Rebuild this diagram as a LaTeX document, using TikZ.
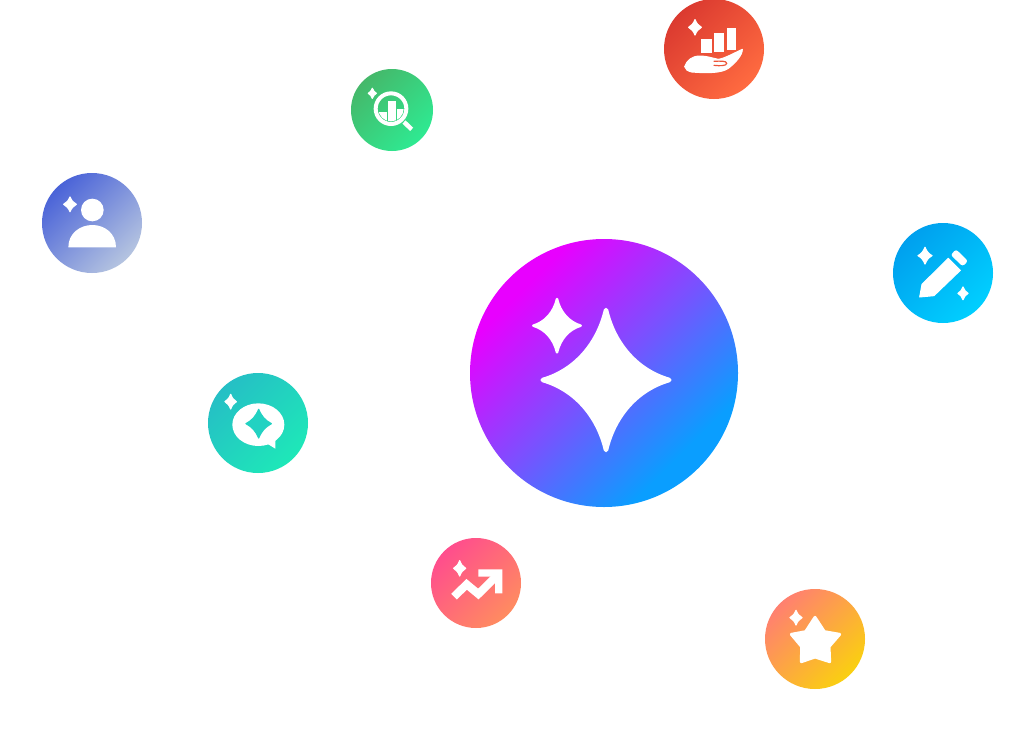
\documentclass[tikz,border=0pt]{standalone}
\definecolor{bigA}{HTML}{E800FF}
\definecolor{bigB}{HTML}{7B50FF}
\definecolor{bigC}{HTML}{0A9EFF}
\definecolor{redA}{HTML}{DB3A30}
\definecolor{redB}{HTML}{FF6B40}
\definecolor{greenA}{HTML}{45B86A}
\definecolor{greenB}{HTML}{2EEA92}
\definecolor{personA}{HTML}{4A63D8}
\definecolor{personB}{HTML}{B5C4E0}
\definecolor{penA}{HTML}{00A0EE}
\definecolor{penB}{HTML}{00CFFF}
\definecolor{tealA}{HTML}{25BFC5}
\definecolor{tealB}{HTML}{1EE8B8}
\definecolor{pinkA}{HTML}{FF4D8D}
\definecolor{pinkB}{HTML}{FF8C60}
\definecolor{orangeA}{HTML}{FF8070}
\definecolor{orangeB}{HTML}{FAD010}
\definecolor{tealstar}{HTML}{22D2C2}
\definecolor{redline}{HTML}{EC5539}
\pgfdeclarehorizontalshading{bigdisc}{100bp}{color(0bp)=(bigA); color(28bp)=(bigA); color(50bp)=(bigB); color(71bp)=(bigC); color(100bp)=(bigC)}
\newcommand{\spkIn}{0.24}
\newcommand{\spkOut}{0.5}
\newcommand{\sparkle}[5][]{%
  \begin{scope}[shift={(#2,#3)}]
  \path[fill=white,draw=white,line width=1.2pt,line join=round,#1] (0,-#5)
    .. controls (\spkIn*#4,-\spkOut*#5) and (\spkOut*#4,-\spkIn*#5) .. (#4,0)
    .. controls (\spkOut*#4,\spkIn*#5) and (\spkIn*#4,\spkOut*#5) .. (0,#5)
    .. controls (-\spkIn*#4,\spkOut*#5) and (-\spkOut*#4,\spkIn*#5) .. (-#4,0)
    .. controls (-\spkOut*#4,-\spkIn*#5) and (-\spkIn*#4,-\spkOut*#5) .. cycle;
  \end{scope}}
\tikzset{
  disc/.style n args={2}{top color=#1,bottom color=#2,shading angle=45},
  zoomed/.style={shift={#1},x=0.33333pt,y=-0.33333pt},
  glyph/.style={fill=white,draw=white,line join=round,line width=1pt}
}
\begin{document}
\begin{tikzpicture}[x=1pt,y=-1pt]
\useasboundingbox (0,0) rectangle (1024,728);
\fill[white] (0,0) rectangle (1024,728);
% central disc
\shade[shading=bigdisc,shading angle=-45] (604,373) circle[radius=134];
\begin{scope}[zoomed={(510,285)}]
  \renewcommand{\spkIn}{0.13}
  \sparkle[line width=4.5pt]{288}{285}{190}{210}
  \sparkle[line width=2.5pt]{141}{122}{71}{80}
\end{scope}
% red: hand and bars
\shade[disc={redA}{redB}] (714,49) circle[radius=50];
\begin{scope}[zoomed={(650,0)}]
  \sparkle{135}{82}{19}{23}
  \fill[white] (152,118) rectangle (185,158);
  \fill[white] (192,100) rectangle (222,155);
  \fill[white] (230,84) rectangle (258,150);
  \path[glyph] (104,200) .. controls (110,182) and (125,168) .. (150,168)
     .. controls (170,168) and (185,174) .. (205,178) .. controls (225,175) and (250,160) .. (277,148)
     .. controls (278,165) and (255,190) .. (235,205) .. controls (215,219) and (175,220) .. (125,216)
     .. controls (112,213) and (106,208) .. (104,200) -- cycle;
  \draw[redline,line width=1.2pt,line cap=round] (192,184) .. controls (210,183) and (230,182) .. (230,190) .. controls (230,198) and (210,198) .. (192,196);
\end{scope}
% green: magnifier
\shade[disc={greenA}{greenB}] (392,110) circle[radius=41];
\begin{scope}[zoomed={(340,60)}]
  \sparkle{97}{100}{12}{15}
  \draw[white,line width=4pt] (153,146) circle[radius=46];
  \draw[white,line width=4.5pt] (192,186) -- (215,208);
  \begin{scope}
    \clip (153,146) circle[radius=38];
    \fill[white] (118,155) rectangle (140,190);
    \fill[white] (145,122) rectangle (167,190);
    \fill[white] (172,148) rectangle (192,190);
  \end{scope}
\end{scope}
% blue: person
\shade[disc={personA}{personB}] (92,223) circle[radius=50];
\begin{scope}[zoomed={(30,165)}]
  \sparkle{120}{118}{19}{22}
  \fill[white] (187,135) circle[radius=34];
  \fill[white] (115,247) .. controls (115,205) and (150,180) .. (187,180) .. controls (224,180) and (258,205) .. (258,247) -- cycle;
\end{scope}
% cyan: pencil
\shade[disc={penA}{penB}] (943,273) circle[radius=50];
\begin{scope}[zoomed={(885,215)}]
  \sparkle{120}{122}{21}{25}
  \sparkle{234}{235}{15}{19}
  \path[glyph] (104,246) -- (111,208) -- (190,130) -- (226,166) -- (147,242) -- cycle;
  \fill[white,rounded corners=2.5pt] (213,103) -- (249,138) -- (233,154) -- (197,120) -- cycle;
\end{scope}
% teal: speech bubble
\shade[disc={tealA}{tealB}] (258,423) circle[radius=50];
\begin{scope}[zoomed={(200,365)}]
  \sparkle{92}{110}{17}{22}
  \fill[white] (175,179) ellipse[x radius=78,y radius=64];
  \fill[white] (200,235) -- (226,251) -- (226,220) -- cycle;
  \sparkle[fill=tealstar,draw=tealstar]{176}{176}{38}{43}
\end{scope}
% pink: trend arrow
\shade[disc={pinkA}{pinkB}] (476,583) circle[radius=45];
\begin{scope}[zoomed={(425,530)}]
  \sparkle{104}{115}{18}{23}
  \draw[white,line width=8pt,miter limit=10] (87,200) -- (125,163) -- (160,192) -- (218,135);
  \fill[white] (160,118) -- (232,118) -- (232,190) -- (210,190) -- (210,140) -- (160,140) -- cycle;
\end{scope}
% orange: star
\shade[disc={orangeA}{orangeB}] (815,639) circle[radius=50];
\begin{scope}[zoomed={(755,580)}]
  \sparkle{123}{113}{18}{22}
  \path[glyph,line width=3pt] (180,112) -- (208,155) -- (254,163) -- (222,200) -- (224,245) -- (180,231) -- (139,245) -- (140,200) -- (109,163) -- (152,155) -- cycle;
\end{scope}
\end{tikzpicture}
\end{document}
